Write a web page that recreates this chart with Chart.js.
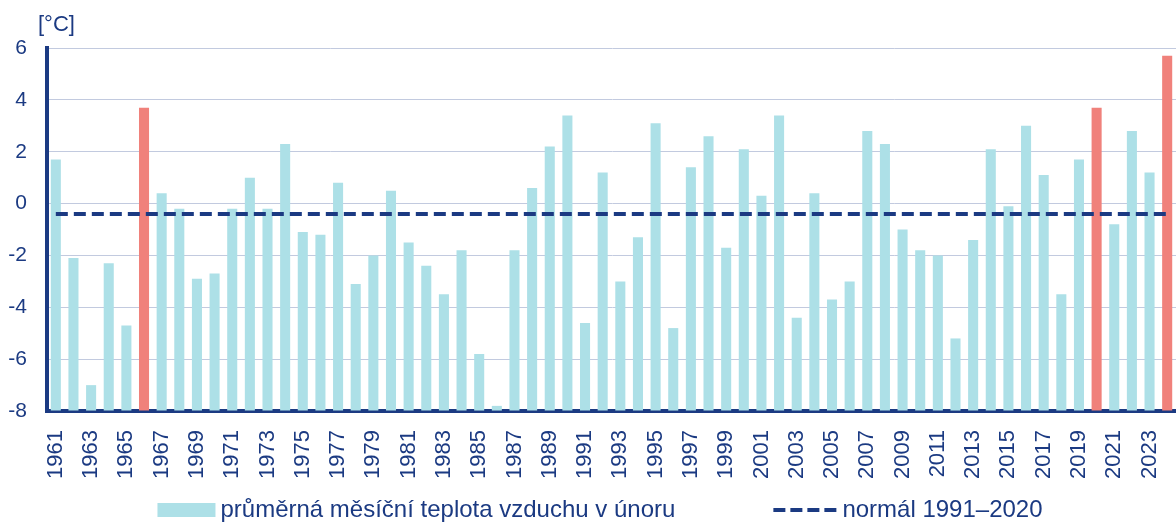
<!DOCTYPE html>
<html lang="cs">
<head>
<meta charset="utf-8">
<title>Průměrná teplota v únoru</title>
<script src="https://cdn.jsdelivr.net/npm/chart.js@4.4.1/dist/chart.umd.min.js"></script>
<style>
    html, body { margin: 0; padding: 0; background: #ffffff; }
    #wrap { width: 1176px; height: 526px; position: relative; }
</style>
</head>
<body>
<div id="wrap"><canvas id="barchart"></canvas></div>
<script>
// data
var years = ['1961','1962','1963','1964','1965','1966','1967','1968','1969','1970',
    '1971','1972','1973','1974','1975','1976','1977','1978','1979','1980',
    '1981','1982','1983','1984','1985','1986','1987','1988','1989','1990',
    '1991','1992','1993','1994','1995','1996','1997','1998','1999','2000',
    '2001','2002','2003','2004','2005','2006','2007','2008','2009','2010',
    '2011','2012','2013','2014','2015','2016','2017','2018','2019','2020',
    '2021','2022','2023','2024'];

var febTemps = [1.7, -2.1, -7.0, -2.3, -4.7, 3.7, 0.4, -0.2, -2.9, -2.7,
    -0.2, 1.0, -0.2, 2.3, -1.1, -1.2, 0.8, -3.1, -2.0, 0.5,
    -1.5, -2.4, -3.5, -1.8, -5.8, -7.8, -1.8, 0.6, 2.2, 3.4,
    -4.6, 1.2, -3.0, -1.3, 3.1, -4.8, 1.4, 2.6, -1.7, 2.1,
    0.3, 3.4, -4.4, 0.4, -3.7, -3.0, 2.8, 2.3, -1.0, -1.8,
    -2.0, -5.2, -1.4, 2.1, -0.1, 3.0, 1.1, -3.5, 1.7, 3.7,
    -0.8, 2.8, 1.2, 5.7];

var highlightYears = ['1966', '2020', '2024'];
var normal9120 = -0.4;
var yTicks = [-8, -6, -4, -2, 0, 2, 4, 6];

var barLabel = 'průměrná měsíční teplota vzduchu v únoru';
var lineLabel = 'normál 1991–2020';

// styles
var navy = '#1b3a82';
var barBlue = '#ade0e7';
var barRed = '#f0817b';
var gridColor = '#c2cadf';
var fontFamily = '"Liberation Sans", Arial, Helvetica, sans-serif';

var barColors = years.map(function (y) {
    return highlightYears.indexOf(y) >= 0 ? barRed : barBlue;
});
var normalLine = years.map(function () { return normal9120; });

// unit label above the y axis
var unitLabel = {
    id: 'unitLabel',
    afterDraw: function (chart) {
        var ctx = chart.ctx;
        ctx.save();
        ctx.font = '22px ' + fontFamily;
        ctx.fillStyle = navy;
        ctx.textAlign = 'left';
        ctx.textBaseline = 'alphabetic';
        ctx.fillText('[°C]', chart.chartArea.left - 9, 31);
        ctx.restore();
    }
};

// one-row legend under the axis labels
var legendRow = {
    id: 'legendRow',
    afterDraw: function (chart) {
        var ctx = chart.ctx;
        ctx.save();
        ctx.font = '24px ' + fontFamily;
        var w1 = ctx.measureText(barLabel).width;
        var w2 = ctx.measureText(lineLabel).width;
        var boxW = 58, lineW = 67, gap = 5, spacing = 98;
        var total = boxW + gap + w1 + spacing + lineW + 2 + w2;
        var x = chart.width / 2 + 12 - total / 2;
        var y = 510;

        ctx.fillStyle = barBlue;
        ctx.fillRect(x, y - 7, boxW, 14);
        ctx.fillStyle = navy;
        ctx.textAlign = 'left';
        ctx.textBaseline = 'middle';
        ctx.fillText(barLabel, x + boxW + gap, y);

        var lx = x + boxW + gap + w1 + spacing;
        ctx.strokeStyle = navy;
        ctx.lineWidth = 4;
        ctx.setLineDash([12, 5]);
        ctx.beginPath();
        ctx.moveTo(lx, y);
        ctx.lineTo(lx + lineW, y);
        ctx.stroke();
        ctx.setLineDash([]);
        ctx.fillText(lineLabel, lx + lineW + 2, y);
        ctx.restore();
    }
};

function initBarChart() {
    var canvas = document.getElementById('barchart');
    if (!canvas) {
        console.error("Canvas 'barchart' introuvable");
        return;
    }

    var config = {
        type: 'bar',
        data: {
            labels: years,
            datasets: [{
                type: 'line',
                label: lineLabel,
                data: normalLine,
                borderColor: navy,
                borderWidth: 4,
                borderDash: [12, 6],
                pointRadius: 0,
                fill: false,
                order: 0
            }, {
                label: barLabel,
                data: febTemps,
                base: yTicks[0],
                backgroundColor: barColors,
                borderWidth: 0,
                barPercentage: 0.57,
                categoryPercentage: 1.0,
                order: 1
            }]
        },
        options: {
            responsive: true,
            maintainAspectRatio: false,
            animation: false,
            layout: {
                padding: { left: 8, right: 0, top: 48, bottom: 36 }
            },
            plugins: {
                legend: { display: false },
                tooltip: { enabled: false }
            },
            scales: {
                x: {
                    z: 1,
                    grid: { display: false },
                    border: { display: true, color: navy, width: 4 },
                    afterFit: function (scale) {
                        // vertical labels do not spill sideways
                        scale.paddingLeft = 0;
                        scale.paddingRight = 0;
                    },
                    ticks: {
                        autoSkip: false,
                        minRotation: 90,
                        maxRotation: 90,
                        padding: 11,
                        color: navy,
                        font: { family: fontFamily, size: 22 },
                        callback: function (val, index) {
                            return index % 2 === 0 ? this.getLabelForValue(val) : '';
                        }
                    }
                },
                y: {
                    min: yTicks[0],
                    max: yTicks[yTicks.length - 1],
                    afterBuildTicks: function (scale) {
                        scale.ticks = yTicks.map(function (v) { return { value: v }; });
                    },
                    afterFit: function (scale) {
                        scale.width = 39;
                    },
                    grid: { color: gridColor, lineWidth: 1, drawTicks: false },
                    border: { display: true, color: navy, width: 4 },
                    ticks: {
                        padding: 20,
                        color: navy,
                        font: { family: fontFamily, size: 21 }
                    }
                }
            }
        },
        plugins: [unitLabel, legendRow]
    };

    new Chart(canvas.getContext('2d'), config);
}

document.addEventListener('DOMContentLoaded', initBarChart);
</script>
</body>
</html>
